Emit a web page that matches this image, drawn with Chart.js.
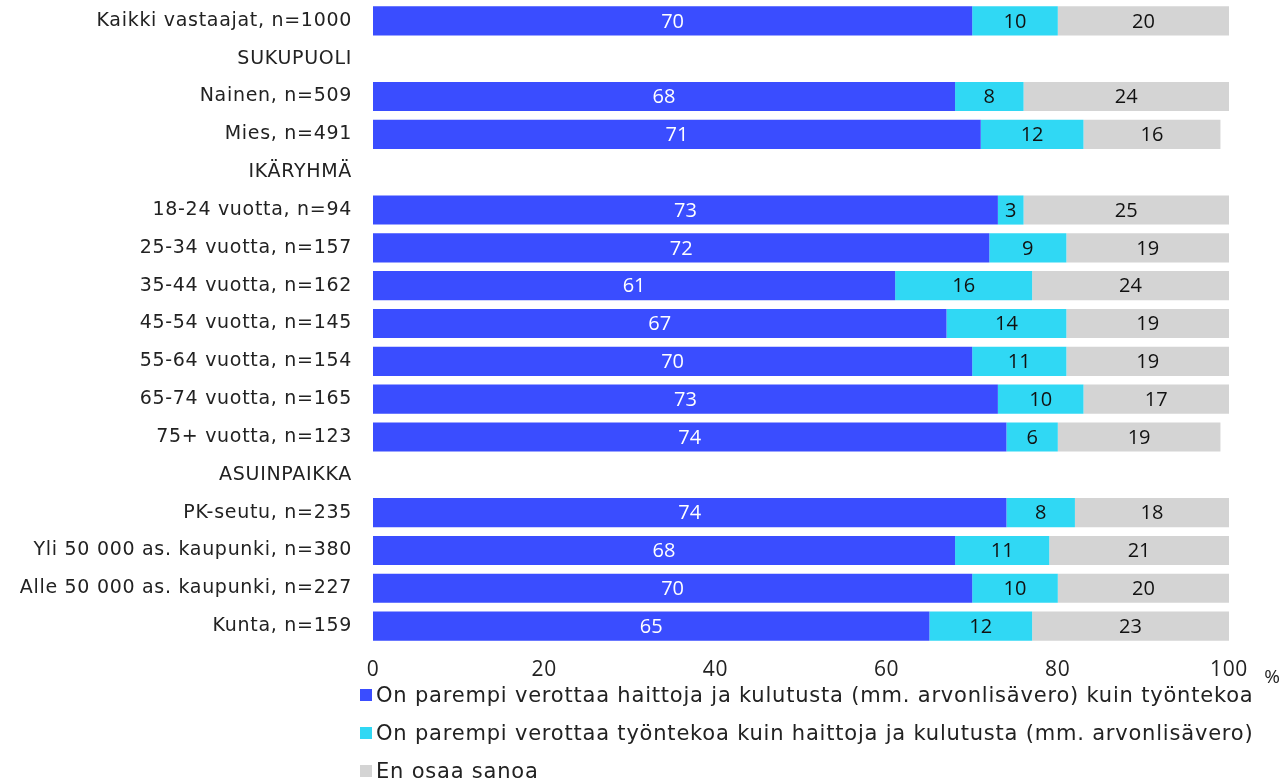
<!DOCTYPE html>
<html>
<head>
<meta charset="utf-8">
<script src="https://cdn.jsdelivr.net/npm/chart.js@4/dist/chart.umd.min.js"></script>
<style>
  body { margin: 0; background: #fff; font-family: "DejaVu Sans", sans-serif; }
  #wrap { position: relative; width: 1287px; height: 780px; }
  #legend { position: absolute; left: 360px; top: 676px; color: #222; font-size: 21px; letter-spacing: 0.8px; }
  .item { height: 38px; line-height: 30px; display: flex; align-items: center; white-space: nowrap; }
  .sw { width: 12px; height: 12px; margin-right: 4px; display: inline-block; }
</style>
</head>
<body>
<div id="wrap">
  <canvas id="chart" width="1287" height="780"></canvas>
  <div id="legend"></div>
</div>
<script>
// categories (header rows have no bars)
var categories = [
    'Kaikki vastaajat, n=1000',
    'SUKUPUOLI',
    'Nainen, n=509',
    'Mies, n=491',
    'IKÄRYHMÄ',
    '18-24 vuotta, n=94',
    '25-34 vuotta, n=157',
    '35-44 vuotta, n=162',
    '45-54 vuotta, n=145',
    '55-64 vuotta, n=154',
    '65-74 vuotta, n=165',
    '75+ vuotta, n=123',
    'ASUINPAIKKA',
    'PK-seutu, n=235',
    'Yli 50 000 as. kaupunki, n=380',
    'Alle 50 000 as. kaupunki, n=227',
    'Kunta, n=159'
];
var seriesNames = [
    'On parempi verottaa haittoja ja kulutusta (mm. arvonlisävero) kuin työntekoa',
    'On parempi verottaa työntekoa kuin haittoja ja kulutusta (mm. arvonlisävero)',
    'En osaa sanoa'
];
var haitat   = [70, null, 68, 71, null, 73, 72, 61, 67, 70, 73, 74, null, 74, 68, 70, 65];
var tyonteko = [10, null, 8, 12, null, 3, 9, 16, 14, 11, 10, 6, null, 8, 11, 10, 12];
var eos      = [20, null, 24, 16, null, 25, 19, 24, 19, 19, 17, 19, null, 18, 21, 20, 23];
var xTicks = [0, 20, 40, 60, 80, 100];

var colors = ['#3a4dff', '#30d8f4', '#d4d4d4'];
var labelColors = ['#ffffff', '#111111', '#111111'];
var FONT = '"DejaVu Sans", sans-serif';
var NUMFONT = '"Open Sans", sans-serif';

// wider letter spacing for the axis labels only
var axisSpacing = {
    id: 'axisSpacing',
    beforeDraw: function(chart) { chart.ctx.letterSpacing = '0.7px'; },
    beforeDatasetsDraw: function(chart) { chart.ctx.letterSpacing = '0px'; }
};

// draws the value in the middle of each bar segment
var valueLabels = {
    id: 'valueLabels',
    afterDatasetsDraw: function(chart) {
        var ctx = chart.ctx;
        ctx.save();
        ctx.font = '20px ' + NUMFONT;
        ctx.textAlign = 'center';
        ctx.textBaseline = 'middle';
        chart.data.datasets.forEach(function(ds, i) {
            var meta = chart.getDatasetMeta(i);
            meta.data.forEach(function(bar, j) {
                var v = ds.data[j];
                if (v === null || v === undefined) return;
                var x0 = Math.max(bar.base, chart.chartArea.left);
                var x1 = Math.min(bar.x, chart.chartArea.right);
                ctx.fillStyle = labelColors[i];
                ctx.fillText(String(v), (x0 + x1) / 2, bar.y + 1);
            });
        });
        // percent unit at the end of the x axis
        ctx.fillStyle = '#222';
        ctx.font = '19px ' + NUMFONT;
        ctx.fillText('%', 1272, 678);
        ctx.restore();
    }
};

var datasets = [haitat, tyonteko, eos].map(function(d, i) {
    return {
        label: seriesNames[i],
        data: d,
        backgroundColor: colors[i],
        borderWidth: 0,
        barPercentage: 0.77,
        categoryPercentage: 1.0
    };
});

new Chart(document.getElementById('chart').getContext('2d'), {
    type: 'bar',
    data: { labels: categories, datasets: datasets },
    plugins: [axisSpacing, valueLabels],
    options: {
        indexAxis: 'y',
        responsive: false,
        animation: false,
        layout: { padding: { top: 2, right: 58, left: 0, bottom: 0 } },
        plugins: {
            legend: { display: false },
            tooltip: { enabled: false }
        },
        scales: {
            x: {
                stacked: true,
                min: 0,
                max: 100,
                afterFit: function(scale) {
                    scale.height = 135;
                    scale.paddingLeft = 0;
                    scale.paddingRight = 0;
                },
                afterBuildTicks: function(scale) {
                    scale.ticks = xTicks.map(function(v) { return { value: v }; });
                },
                grid: { display: false, drawTicks: false },
                border: { display: false },
                ticks: { color: '#222', padding: 12, maxRotation: 0, font: { family: NUMFONT, size: 21 } }
            },
            y: {
                stacked: true,
                afterFit: function(scale) {
                    scale.width = 373;
                    scale.paddingTop = 0;
                    scale.paddingBottom = 0;
                },
                grid: { display: false, drawTicks: false },
                border: { display: false },
                ticks: { color: '#222', padding: 21, autoSkip: false, font: { family: FONT, size: 19 } }
            }
        }
    }
});

// legend, one entry per line
var legend = document.getElementById('legend');
seriesNames.forEach(function(name, i) {
    var row = document.createElement('div');
    row.className = 'item';
    var sw = document.createElement('span');
    sw.className = 'sw';
    sw.style.background = colors[i];
    var txt = document.createElement('span');
    txt.textContent = name;
    row.appendChild(sw);
    row.appendChild(txt);
    legend.appendChild(row);
});
</script>
</body>
</html>
